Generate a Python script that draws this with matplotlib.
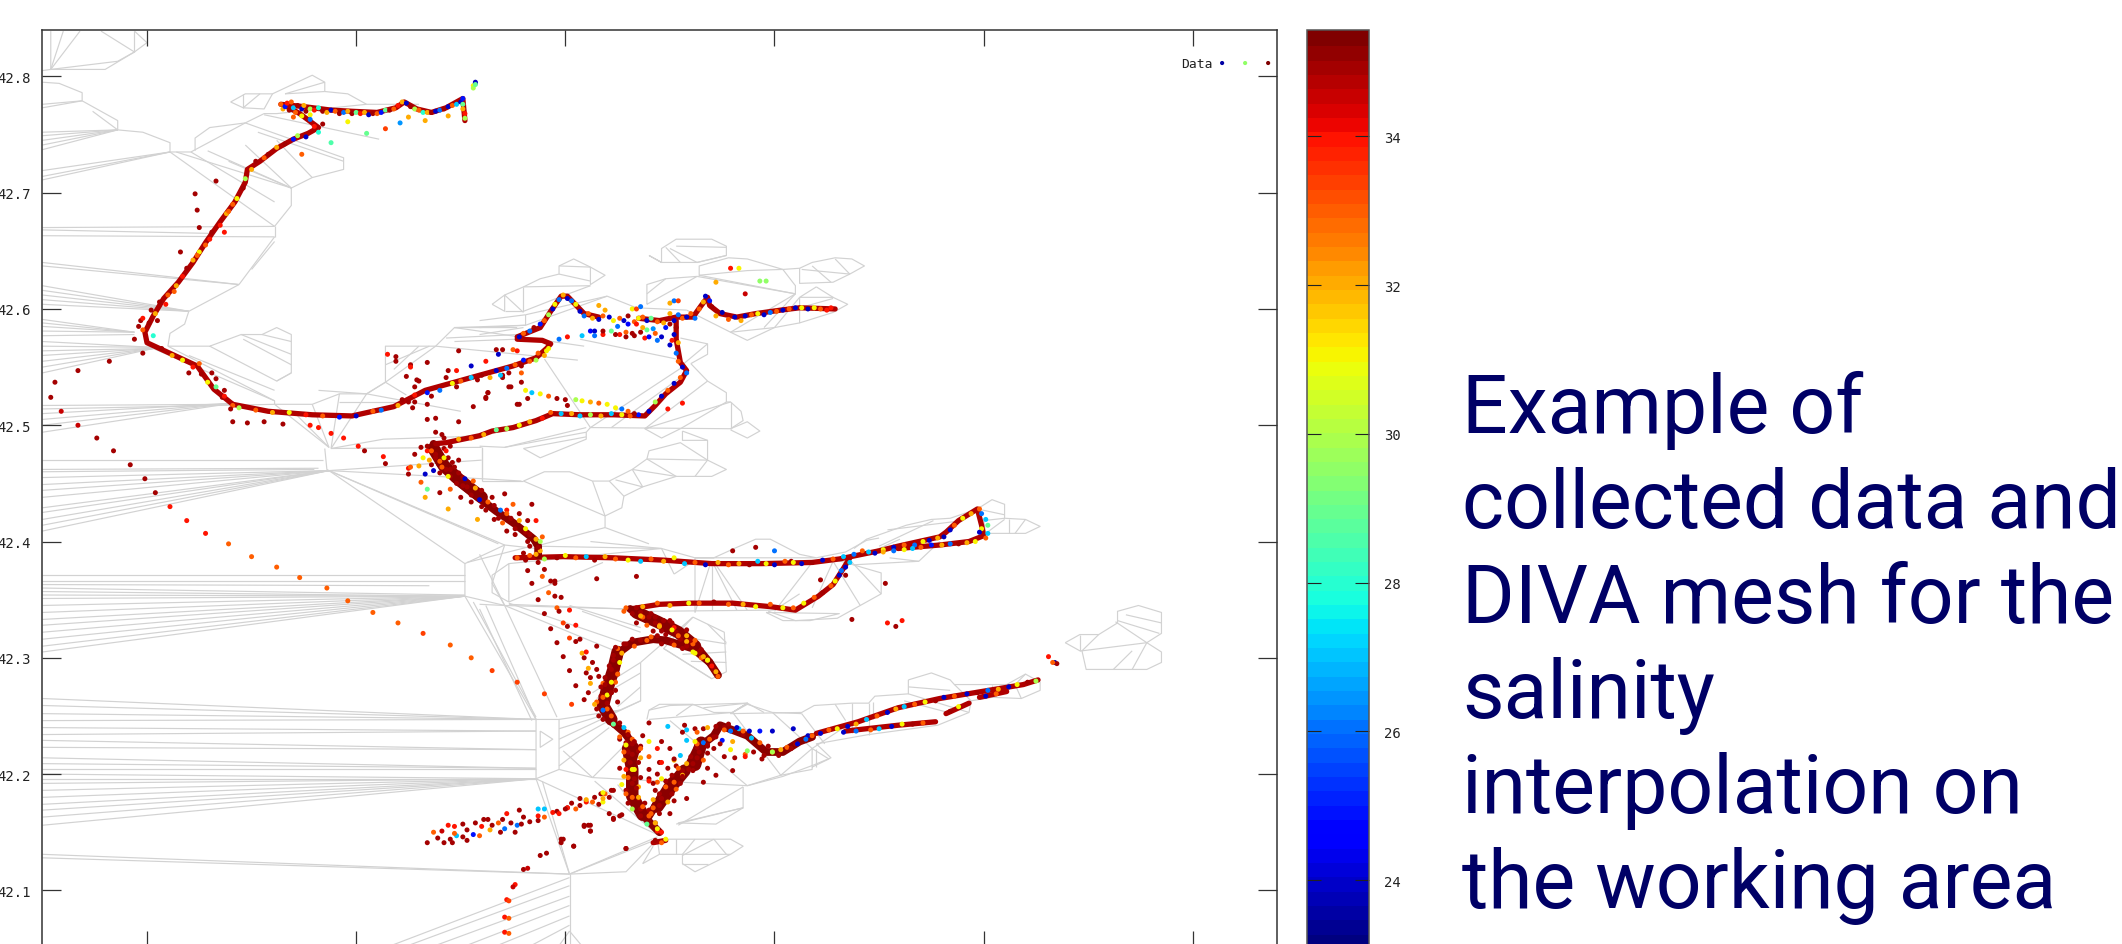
import numpy as np
import matplotlib
matplotlib.use("Agg")
import matplotlib.pyplot as plt
from matplotlib.collections import LineCollection
from matplotlib.colors import ListedColormap

# triangulation outline and inner edges, open sea side
mesh_west = [
    [(-46,839),(-46,806),(-20,806),(-6,821),(0,829),(-6,839)],
    [(-46,806),(-32,839)], [(-46,806),(-40,839)], [(-46,806),(-14,813),(-6,821),(-22,839)],
    [(-6,821),(-6,839)], [(-50,805),(-46,806)],
    [(-50,795),(-42,794),(-31,786),(-31,779),(-50,773)], [(-50,776),(-31,779)],
    [(-31,779),(-14,762),(-14,754),(-50,737)], [(-50,752),(-14,754)], [(-50,749),(-14,754)],
    [(-50,745),(-14,754)], [(-50,741),(-14,754)], [(-26,770),(-14,754)],
    [(-14,754),(-2,752),(11,743),(11,735),(-50,719)], [(-50,714),(11,735)], [(-50,711),(11,735)],
    [(11,735),(61,671)], [(11,735),(21,735),(47,760)], [(14,735),(69,704)],
    [(23,736),(23,747),(30,756),(47,760),(56,768),(62,768),(105,776)],
    [(21,735),(61,692)], [(29,736),(69,704)], [(39,727),(69,704)],
    [(40,778),(47,785),(60,785),(79,801),(85,795),(85,787),(96,785),(105,776),(130,776)],
    [(40,778),(46,773),(56,772),(60,785)], [(46,785),(46,773)], [(46,773),(54,785)],
    [(66,785),(85,795)], [(66,785),(85,787)],
    [(56,767),(111,746)], [(47,760),(94,730),(94,720),(79,713),(69,704),(69,689),(61,671)],
    [(53,752),(94,727)], [(62,745),(79,713)], [(47,741),(69,704)],
    [(-50,670),(61,671)], [(-50,668),(30,665)], [(-50,663),(61,662)], [(61,671),(61,662)],
    [(61,662),(44,621)], [(61,658),(50,634)], [(-50,640),(44,621)], [(-50,637),(44,621)],
    [(44,621),(20,598)], [(-50,620),(20,598)], [(-50,616),(20,598)], [(-50,612),(20,598)],
    [(-50,608),(20,598)], [(-50,604),(20,598)], [(20,598),(18,587),(11,579),(10,568)],
    [(-50,591),(-6,580)], [(-50,588),(-6,580)], [(-50,585),(-6,580)], [(-50,581),(-6,580)],
    [(-50,577),(-6,578)], [(-50,572),(3,567)], [(-50,568),(3,567)], [(-50,564),(3,566)],
    [(-50,560),(3,566)], [(-50,555),(3,566)], [(-50,550),(3,566)], [(-50,545),(3,566)],
    [(10,568),(30,568),(45,578),(55,578),(62,584),(69,578),(69,545),(62,538),(30,568)],
    [(45,578),(69,561)], [(55,578),(69,572)], [(46,574),(69,552)], [(62,538),(69,545)],
    [(10,568),(61,521)], [(3,566),(61,521),(61,518)], [(20,560),(61,530)],
    [(-50,517),(41,518)], [(-50,514),(61,518)], [(-50,510),(41,519)], [(-50,505),(41,519)],
    [(-50,500),(41,519)], [(-50,494),(41,519)],
    [(61,518),(79,518),(92,527),(105,527),(114,537),(114,568),(138,568),(147,584),(177,584)],
    [(61,518),(87,481),(79,518)], [(92,527),(88,480)], [(105,527),(88,480)], [(72,508),(87,481)],
    [(105,527),(114,537),(138,568)], [(114,552),(135,568)], [(118,548),(130,568)],
    [(82,530),(105,527)], [(124,526),(114,537)], [(138,568),(206,556)], [(147,584),(209,568)],
    [(143,575),(177,578)], [(147,572),(177,574)], [(105,527),(150,512)], [(92,520),(120,520)],
    [(88,480),(160,481)], [(85,480),(86,462),(87,461)], [(88,480),(113,488),(147,490)],
    [(87,461),(160,454),(179,452)], [(87,461),(160,470)], [(160,481),(160,454)],
    [(-50,470),(84,470)], [(-50,462),(82,463)], [(-50,460),(80,462)], [(-50,455),(87,461)],
    [(-50,449),(87,461)], [(-50,444),(87,461)], [(-50,438),(87,461)], [(-50,429),(87,461)],
    [(-50,425),(87,461)], [(-50,419),(87,461)], [(-50,414),(87,461)], [(-50,409),(87,461)],
    [(87,461),(152,381),(152,353)], [(87,461),(171,397)], [(87,461),(168,398)],
    [(152,381),(171,397),(186,394)], [(152,353),(171,345),(165,364),(171,397)],
    [(-50,371),(152,371)], [(-50,366),(152,366)], [(-50,363),(135,362)], [(-50,360),(152,354)],
    [(-50,357),(152,353)], [(-50,354),(152,353)], [(-50,351),(152,353)], [(-50,345),(152,353)],
    [(-50,339),(152,353)], [(-50,333),(152,353)], [(-50,328),(152,353)], [(-50,322),(152,353)],
    [(-50,316),(152,353)], [(-50,310),(152,353)], [(-50,305),(152,353)],
    [(152,353),(186,247)], [(156,348),(186,249)], [(171,345),(196,249)],
    [(-50,265),(186,247)], [(-50,259),(186,247)], [(-50,252),(186,247)], [(-50,246),(186,247)],
    [(-50,240),(186,237)], [(-50,234),(186,237)], [(-50,229),(186,221)], [(-50,223),(186,221)],
    [(-50,214),(186,205)], [(-50,209),(186,205)], [(-50,204),(186,204)], [(-50,200),(186,196)],
    [(-50,196),(186,196)], [(-50,192),(186,196)], [(-50,186),(186,196)], [(-50,180),(186,196)],
    [(-50,174),(186,196)], [(-50,169),(186,196)], [(-50,163),(186,196)], [(-50,156),(186,196)],
    [(-50,131),(202,114)], [(-50,128),(202,114)],
    [(186,196),(202,114)], [(189,194),(202,114)], [(186,196),(244,148)], [(214,194),(244,148)],
    [(225,191),(244,148)], [(202,114),(244,146)],
    [(202,114),(202,50)], [(202,111),(113,50)], [(202,104),(121,50)], [(202,95),(134,50)],
    [(202,87),(149,50)], [(202,78),(164,50)], [(202,70),(181,50)], [(202,65),(209,50)],
    [(202,65),(196,50)],
]

# triangulation round the inlets and the eastern spit
mesh_east = [
    [(165,604),(171,598),(171,612),(165,604)], [(171,612),(180,619),(188,626),(197,630),(197,637),(204,643),(212,636),(219,629),(212,621),(212,636)],
    [(171,598),(180,598),(180,619)], [(180,598),(197,610),(212,620)], [(180,597),(171,612)],
    [(180,619),(212,620)], [(197,630),(212,624)], [(197,637),(212,636)],
    [(181,595),(220,611),(234,601)], [(181,595),(181,586),(159,584)], [(220,611),(181,586)],
    [(159,578),(180,584)], [(147,584),(181,586)], [(159,590),(181,595)],
    [(239,604),(239,621),(248,626),(263,628),(239,604)], [(239,613),(248,626)], [(234,601),(258,599)],
    [(240,646),(246,640),(246,652),(253,660),(270,660),(277,654),(277,646),(263,640),(255,640),(246,640),(240,646)],
    [(248,653),(255,640)], [(250,652),(263,640)], [(253,654),(277,653)], [(263,640),(277,646)],
    [(264,628),(264,637),(278,644),(287,643),(304,634),(312,635),(318,640),(329,644),(337,643),(343,637),(336,630),(328,623),(312,622),(312,635)],
    [(313,634),(336,630)], [(329,643),(336,630)], [(318,637),(327,623)],
    [(264,629),(310,613),(310,620),(304,634)], [(263,628),(310,613)], [(264,629),(287,633),(304,634)],
    [(320,619),(312,610),(328,610),(335,604),(328,597),(312,588),(312,610)], [(320,619),(328,610)],
    [(312,601),(328,609)], [(312,588),(300,584),(287,573),(279,580),(258,599)],
    [(310,613),(295,584)], [(279,580),(300,584)], [(279,580),(310,613)], [(312,610),(300,584)],
    [(190,557),(212,498)], [(207,574),(253,557)], [(212,498),(256,550)], [(222,498),(258,545)],
    [(238,497),(279,520),(284,512),(285,504),(279,497),(212,498)], [(256,552),(268,570),(268,561),(260,553)],
    [(268,570),(255,575)], [(260,553),(268,538),(277,528),(277,520),(279,520)], [(268,538),(238,497)],
    [(277,520),(255,497)], [(279,520),(279,497)], [(279,497),(287,503),(293,495),(287,489),(279,496)],
    [(238,497),(246,489),(255,497)], [(256,495),(256,487),(268,487),(268,470),(277,462),(270,456),(253,456),(237,447),(228,439),(227,429),(219,422),(219,412)],
    [(256,495),(268,487)], [(239,471),(240,478),(255,485),(268,470)], [(239,471),(268,470)],
    [(262,456),(268,470)], [(239,471),(253,456)], [(232,462),(253,456)], [(232,462),(239,471)],
    [(221,452),(228,439)], [(221,452),(232,462)], [(224,453),(237,447)], [(232,462),(237,447)],
    [(180,452),(190,460),(202,460),(213,452),(221,452)], [(180,452),(219,422)], [(213,452),(219,422)],
    [(180,452),(160,452)], [(160,480),(160,452)], [(159,482),(171,481),(210,494),(212,498)],
    [(171,481),(210,498)], [(180,480),(188,472),(210,488),(210,494)], [(180,480),(210,490)],
    [(147,490),(159,491)], [(153,382),(186,397)], [(186,396),(246,394),(252,372)],
    [(219,412),(186,396)], [(212,400),(246,394)], [(219,412),(240,398)],
    [(159,389),(171,345)], [(173,348),(173,381),(165,371),(165,356),(173,348)],
    [(159,346),(171,345)], [(162,345),(186,247)], [(159,342),(184,246)],
    [(173,381),(246,394)], [(173,348),(218,382)], [(171,345),(229,342)], [(173,346),(229,342)],
    [(171,345),(225,305)], [(173,347),(228,313)],
    [(246,394),(262,386),(262,339)], [(252,372),(262,384)], [(262,386),(271,386),(282,395),(291,402),(298,402),(312,389),(320,386),(262,386)],
    [(269,379),(262,339)], [(270,379),(270,341)], [(272,380),(287,341)], [(271,380),(282,341)],
    [(240,340),(300,341)], [(296,339),(304,332),(317,332),(331,338),(296,339)], [(300,340),(318,382)],
    [(300,341),(312,355)], [(320,386),(334,391),(344,401),(350,403)],
    [(338,394),(344,402),(363,414),(375,419),(384,420),(397,428),(404,436),(410,432),(410,420),(420,419),(427,413),(420,407),(401,407),(400,418),(410,420)],
    [(410,419),(401,407)], [(412,419),(412,407)], [(415,407),(420,419)], [(397,428),(410,423)],
    [(328,385),(351,373),(351,355),(341,345),(330,334),(310,332),(297,340)], [(334,388),(351,355)],
    [(338,380),(369,383),(379,400)], [(355,386),(369,383)], [(341,345),(328,383)], [(318,343),(328,383)],
    [(354,410),(390,418)], [(345,390),(360,402)], [(350,396),(376,418)],
    [(439,313),(446,320),(455,320),(464,330),(464,340),(474,345),(485,339),(485,321),(478,313),(485,305),(485,296),(478,290),(449,290),(447,306),(478,313)],
    [(439,313),(446,306),(447,306)], [(446,320),(446,306)], [(455,320),(447,306)], [(463,331),(478,313)],
    [(468,337),(485,330)], [(464,332),(484,321)], [(462,290),(471,306)], [(471,290),(478,313)],
    [(364,281),(375,287),(384,281),(386,277),(415,277),(420,286),(427,279),(427,272),(418,265),(404,266),(394,263),(393,253),(378,242),(345,234),(320,226),(327,214),(319,208),(304,198),(287,190)],
    [(364,281),(364,269),(348,267),(345,261),(337,261),(319,259),(313,253),(279,252),(287,261),(279,252)],
    [(345,261),(345,234)], [(337,261),(337,235)], [(250,259),(240,255)], [(287,261),(250,259)],
    [(266,257),(287,261),(295,253)], [(364,269),(393,253)], [(364,275),(384,272)], [(362,263),(383,253)],
    [(415,277),(418,265)], [(404,277),(404,266)], [(386,277),(394,263)], [(420,286),(404,270)],
    [(285,189),(285,171),(253,157)], [(285,189),(254,156)], [(285,171),(254,158),(272,157),(285,171)],
    [(244,144),(279,144),(285,138),(279,131),(245,131),(244,144)], [(253,144),(253,131)], [(262,144),(256,131)],
    [(271,144),(256,130)], [(271,144),(277,131)], [(256,131),(256,123),(262,116),(279,131)], [(256,123),(268,123)],
    [(244,144),(202,114)], [(244,144),(229,116),(202,114)], [(237,123),(242,138)], [(245,131),(237,123)],
    [(186,247),(197,247),(197,204),(186,196),(186,247)], [(188,237),(194,230),(188,223),(188,237)],
    [(197,239),(226,255)], [(197,230),(236,263)], [(197,222),(220,245)], [(197,207),(221,240)],
    [(199,220),(213,197)], [(197,204),(213,197)], [(213,197),(228,224)], [(213,197),(287,190)],
    [(236,296),(236,263),(226,255),(197,247)], [(236,296),(213,270)], [(236,287),(215,265)], [(236,275),(225,258)],
    [(239,247),(240,255),(245,260),(261,260),(271,253),(280,253),(287,260),(299,253),(313,252)],
    [(240,247),(280,253)], [(253,250),(261,260)], [(287,190),(303,199),(318,204),(318,222),(326,213),(318,206)],
    [(303,199),(318,222)], [(320,222),(320,206)], [(318,222),(334,241)], [(280,253),(303,199)], [(250,246),(287,190)],
    [(299,253),(318,222)], [(313,252),(324,226)], [(329,260),(334,246)], [(347,262),(347,247)],
    [(261,335),(276,322),(277,288),(270,282),(247,308),(261,335)], [(247,308),(270,282)], [(256,318),(277,312)],
    [(256,303),(277,305)], [(260,297),(277,296)], [(268,329),(277,313)], [(236,296),(261,335)],
    [(202,345),(236,326)], [(208,340),(236,322)],
]

# where the survey tracks are so dense that the dots merge into a band
band_north = [(64,776),(75,774),(88,771),(98,770),(110,769),(119,773),(123,778),(129,772),(136,769),(143,773),(151,781),(152,762)]
band_cape = [(66,775),(73,768),(82,756),(77,751),(70,746),(62,738),(54,727),(48,720),(47,709),(42,692),(35,675),(28,657),(22,640),(15,623),(8,609),(3,594),(-1,580),(0,571),(12,561),(24,551),(32,531),(41,518)]
band_bay = [(41,518),(58,512),(79,509),(98,508),(118,516),(133,530),(159,543),(167,547),(175,551),(186,558),(191,566),(193,570),(189,573),(177,574)]
band_inner = [(177,576),(188,584),(193,598),(198,611),(201,611),(209,596),(216,593)]
band_fjord = [(235,592),(245,590),(253,593),(261,593),(265,603),(268,610),(269,603),(274,596),(282,593),(291,596),(303,599),(312,601),(329,600)]
band_stem = [(253,590),(253,574),(255,554),(258,547),(255,537),(248,527),(243,517),(238,508),(223,509),(207,509),(194,510),(186,504),(175,498),(165,495),(159,491),(143,485),(137,484)]
band_slope = [(137,484),(140,467),(147,454),(159,437),(167,426),(176,415),(185,402),(187,396),(187,388)]
band_middle = [(176,386),(199,387),(223,386),(247,384),(270,381),(294,381),(318,382),(331,385),(350,392),(359,396),(379,404),(382,408),(388,418),(397,428),(399,414),(400,405),(393,400),(379,397),(359,394)]
band_branch = [(336,386),(333,377),(328,363),(321,353),(310,341),(298,344),(280,347),(260,347),(245,346),(231,342)]
band_arc = [(273,285),(269,296),(261,308),(248,315),(242,316),(232,313),(226,305),(224,290),(220,273),(217,259),(221,247),(228,236),(234,222),(231,204),(232,181),(239,161),(245,150)]
band_fork = [(231,342),(239,333),(248,328),(256,319),(263,309),(269,296)]
band_east = [(320,235),(340,245),(359,257),(379,265),(399,271),(419,277),(426,281)]
band_east_low = [(334,237),(359,242),(377,245)]
band_east_bit = [(382,252),(393,261)]
band_east_tip = [(398,266),(411,271)]
band_central = [(239,161),(250,193),(258,204),(263,222),(271,233),(274,242),(287,233),(296,219),(304,219),(312,228),(318,232)]
band_tip = [(242,141),(248,143)]

# the widest stretches, where readings pile up across the track
pile_column = [(225,305),(223,290),(220,273),(218,259),(222,247)]
pile_lower = [(230,222),(232,204),(232,181),(237,165)]
pile_slope = [(137,480),(142,465),(150,452),(160,438)]
pile_fork = [(234,339),(244,331),(254,322),(262,310)]
pile_blob = [(262,208),(265,227)]
pile_blob2 = [(244,172),(251,190),(257,203)]

# single readings that can be told apart, lon, lat, salinity
dots_open_sea = [
    (-46,524,35),(-44,537,35),(-33,547,35),(-18,555,35),(-2,562,35),(-41,512,34.5),(-33,500,34.5),(-24,489,35),
    (-16,478,35),(-8,466,35),(-1,454,35),(4,442,35),(11,430,34),(19,418,34),(28,407,34),(39,398,33),(50,387,33),
    (62,378,33),(73,369,33),(86,360,33),(96,349,33),(108,339,33),(120,330,33),(132,321,33.5),(145,311,33),(155,300,33),
    (165,289,33.5),(177,279,33.5),(190,269,33.5),(203,260,33.5),
    (176,105,34),(175,103,34.5),(172,92,34),(173,91,33.5),(171,77,34),(173,76,33),(171,64,34),(173,63,33),
    (180,118,35),(182,119,34.5),(188,130,35),(191,132,35),(199,144,35),(198,141,35),(204,138,35),(229,136,35),
]
dots_scattered = [
    (33,710,35),(23,699,35),(24,685,35),(25,670,35),(16,649,35),(37,666,34),(74,733,33),(84,759,35),
    (96,761,31),(78,767,31),(105,751,29),(114,755,33.5),(121,760,26.5),(125,765,32),(133,762,32),(144,766,32),(88,743,28.5),
    (279,635,34),(283,635,31),(272,623,32),(293,624,29.5),(296,624,29.5),(286,613,34.5),(250,605,32),(252,607,26),(254,607,33.5),
    (249,514,34),(256,519,34),(216,603,32),(219,599,32),(232,600,31),(234,600,33.5),(236,602,26),
    (115,561,34),(119,559,35),(119,555,35),(126,552,35),(126,550,34),(124,542,35),(134,554,35),(129,539,35),(130,538,35),(128,533,35),
    (149,564,35),(144,547,35),(148,547,34),(167,565,35),(170,565,35),(168,561,24),(175,565,33),(177,564,34),(155,551,24),
    (162,523,35),(163,528,35),(173,533,35),(170,543,35),(177,518,35),(156,516,35),(149,503,35),(138,506,35),(134,505,35),(134,518,35),(127,515,35),(125,520,35),
    (41,503,35),(48,502,35),(56,503,35),(65,501,35),(78,500,34),(82,498,34),(88,493,34),(94,489,34),(101,482,34),(104,478,35),(113,473,34),(114,467,35),(125,463,34),
    (138,494,35),(141,492,35),(142,489,35),(162,555,34),(170,541,35),(174,533,35),(163,528,35),(162,524,35),(178,518,35),(182,523,35),(201,517,35),
    (182,375,35),(187,382,35),(190,376,35),(184,364,35),(189,370,33),(193,366,35),(195,366,35),(195,364,35),(192,356,33),(195,353,35),(198,352,35),(187,350,35),
    (215,368,35),(234,370,35),(196,343,33),(197,340,35),(202,341,34),(190,338,35),(199,330,33.5),(205,328,34),(201,327,35),(193,325,35),(202,317,33.5),(207,316,35),(205,314,35),(196,313,35),
    (215,310,35),(199,301,35),(208,304,32),(210,305,34),(209,300,35),(213,296,35),(211,291,32),(202,289,35),(210,287,35),(215,290,35),(212,278,32),(205,276,35),(211,270,35),(209,264,35),(212,283,35),(216,284,35),(218,278,33),
    (224,272,35),(225,262,35),(220,268,31),(215,262,33),
    (334,371,35),(353,364,35),(308,383,35),(322,367,35),(354,330,34),(358,327,35),(361,332,34),(337,333,35),(345,391,27),(357,395,35),(300,392,26),(291,395,35),(280,392,35),
    (431,301,34),(434,296,23.7),(435,295,35),(433,296,33),
]
dots_southwest = [
    (134,141,35),(141,151,34.5),(142,141,35),(144,156,34),(147,155,34),(145,144,35),(148,147,27),(151,157,35),(153,143,35),(156,148,25),(157,158,35),(159,147,33),
    (161,161,35),(163,161,35),(164,152,32),(169,150,35),(170,161,35),(171,153,26),(174,158,35),(177,156,26),(180,163,35),(179,157,35),(187,164,34),(187,160,35),
    (190,170,27),(194,167,34),(196,168,35),(201,171,35),(205,170,33),(207,173,35),(209,156,35),(212,151,35),(212,156,35),(216,174,35),(219,183,33),(223,186,35),
    (218,176,31),(223,161,35),(226,164,35),(221,180,35),(217,183,35),(214,180,35),(207,179,35),(201,171,34),(218,179,32),(221,166,35),(223,162,35),(227,165,35),
    (209,155,35),(211,156,35),(212,151,35),(198,144,35),(204,138,35),(229,136,35),(178,169,35),(172,166,34),(165,156,35),(160,155,34),(153,152,35),(147,149,33),
    (183,159,35),(190,163,33),(197,166,34),(203,175,35),(210,176,34),(151,146,35),(139,145,35),(146,141,35),(137,150,33),(176,150,35),(168,158,33),(187,170,27),
]
dots_central = [
    (229,227,35),(232,230,33),(235,220,35),(230,219,35),(236,214,32),(231,210,35),(233,204,31),(229,204,34),(236,197,35),(230,197,33),(232,192,35),(235,189,32),
    (229,186,35),(232,180,33),(235,179,35),(236,170,35),(240,164,33),(243,158,35),(244,151,34),(240,169,35),(242,171,33),(245,166,35),(238,175,35),(228,219,33),
    (245,210,35),(240,204,35),(248,194,35),(252,193,33),(256,203,35),(259,204,35),(253,187,33),(251,183,35),(246,179,35),(249,176,32),(252,177,35),(245,173,35),
    (240,196,35),(240,194,34),(244,193,33),(244,200,35),(253,207,35),(256,199,32),(261,203,35),(266,193,35),(258,179,35),(250,166,35),(280,203,35),
    (264,219,35),(263,214,35),(266,212,33),(263,223,35),(268,224,35),(269,230,33),(266,227,26),(272,232,35),(276,240,35),(279,237,26),(285,234,35),(281,214,35),
    (286,217,33),(290,219,35),(295,216,35),(299,219,32),(302,216,35),(306,223,33),(310,226,35),(316,233,24),(309,239,24),(299,237,24),(293,237,25),(288,237,24),
    (283,239,27),(275,229,25),(258,229,27),(258,238,27),(249,241,27),(240,228,31),(246,228,35),(237,233,35),(240,244,35),(257,242,35),(262,239,35),(255,216,27),
    (252,212,32),(279,221,31),(287,220,29.5),(268,218,35),(271,222,35),(274,226,35),(261,209,35),(268,205,35),(272,199,35),(255,192,35),(249,205,35),(243,186,35),
]
dots_wide_slope = [
    (131,481,35),(134,478,34),(138,484,35),(132,472,31),(138,475,35),(142,480,35),(145,482,35),(140,469,33),(144,472,35),(147,464,35),(143,462,35),(130,465,32),
    (126,464,33),(133,458,24),(140,459,35),(145,456,35),(151,455,35),(125,458,35),(131,451,33),(134,445,29),(140,442,35),(145,445,33),(150,438,35),(133,438,32),
    (144,428,32),(158,419,32),(155,434,35),(166,419,35),(172,427,34),(171,441,35),(175,432,33),(184,432,35),(182,418,35),(186,418,34),(181,408,35),(172,409,35),
    (149,470,35),(136,466,35),(151,448,35),(156,452,33),(160,430,35),(165,438,35),(170,416,33),(176,406,35),(178,424,35),(183,396,35),(189,404,33),(128,475,35),
]
dots_wide_arc = [
    (223,302,35),(225,308,33),(222,290,35),(225,286,35),(219,277,35),(224,279,33),(217,267,35),(222,270,35),(215,256,35),(220,256,33),(218,247,35),(223,242,35),
    (226,230,35),(230,236,33),(232,226,35),(236,224,35),(234,343,35),(237,335,33),(240,335,35),(236,339,35),(247,332,35),(245,328,33),(251,330,35),(253,322,35),
    (258,319,32),(246,323,35),(255,316,35),(261,312,33),(264,305,35),(268,298,32),(271,290,35),(228,312,35),(232,316,35),(239,315,33),(244,319,35),(251,313,35),
    (256,308,35),(261,305,31),(241,338,35),(228,340,33),(243,330,35),(252,326,34),(260,315,35),(265,300,33),
]

# band speckle, the coloured readings lying on the tracks
speckle_north = [
    (64,776,33),(65,772,32),(66,774,25),(67,777,34),(68,771,35),(69,778,33),(70,773,27),(71,769,33),(72,775,35),(74,772,24),(75,775,32),(76,770,35),
    (78,772,30),(80,771,34),(82,773,28),(84,770,35),(86,769,32),(88,771,24),(90,770,33),(92,768,35),(94,769,26),(96,770,32),(98,768,35),(100,769,29),
    (102,768,34),(104,769,32),(106,767,24),(108,768,35),(110,768,33),(112,769,25),(114,771,29),(116,771,35),(118,772,33),(120,775,34),(122,778,32),(124,777,24),
    (126,774,35),(128,772,30),(130,771,33),(132,769,28),(134,769,32),(136,769,35),(138,770,24),(140,771,26),(142,772,35),(144,774,24),(146,775,33),(148,776,27),
    (150,778,24),(151,781,25),(151,776,29),(151,772,32),(152,768,34),(152,764,30),(157,795,23.8),(156,792,31),(157,794,24),(156,790,30),(157,793,29),
]
speckle_cape = [
    (70,765,33),(74,766,31),(78,763,26),(80,757,34),(82,752,28),(76,748,24),(72,749,30),(70,746,25),(66,742,35),(62,739,32),(58,733,35),(56,730,33),
    (52,727,35),(50,720,32),(47,712,30),(46,704,35),(43,695,31),(41,690,33),(38,682,32),(35,672,34),(31,666,35),(28,655,33),(25,649,31),(22,642,32),
    (19,635,35),(17,628,34),(14,620,32),(10,612,33),(6,606,35),(4,596,32),(1,588,35),(-2,582,33),(3,577,28),(7,566,35),(12,560,32),(17,556,31),
    (22,550,34),(26,544,35),(29,537,31),(33,533,29),(36,524,35),(41,517,33),(44,515,30),(33,540,35),(37,530,35),(25,553,33),(20,545,35),(31,545,35),(37,525,34),(40,514,35),
    (9,604,34),(13,615,33),(24,646,33),(30,660,34),(39,684,33),(5,590,35),(-4,585,35),(-6,574,35),(-3,590,35),(2,599,35),(-2,592,34),
]
speckle_bay = [
    (52,513,33),(60,511,32),(68,511,31),(76,509,34),(84,508,33),(92,507,25),(100,508,24),(108,512,33),(112,513,26),(120,517,32),(128,526,34),(134,528,25),
    (136,525,35),(140,530,26),(146,536,31),(150,538,33),(155,541,27),(160,543,35),(167,547,24),(172,549,26),(176,552,33),(180,556,25),(186,556,30),(191,564,31),
    (164,541,32),(169,543,27),(183,555,33),(187,562,33),(190,560,32),(192,566,31),(179,551,35),(173,545,35),(158,539,35),(148,533,35),(143,541,35),(128,520,35),(122,522,35),
]
speckle_loop = [
    (178,576,24),(180,579,33),(183,581,26),(185,584,35),(188,587,25),(190,590,33),(192,595,30),(194,600,24),(195,604,31),(197,608,26),(199,612,32),(201,609,24),(203,607,26),
    (205,604,31),(207,598,24),(209,594,26),(211,596,33),(213,592,32),(216,591,24),(218,594,33),(221,593,24),(223,590,31),(226,592,33),(228,590,24),(230,594,35),(233,589,33),
    (235,592,31),(237,593,33),(239,590,24),(241,592,29),(244,589,33),(247,588,32),(250,587,35),(252,590,24),(250,596,32),(254,595,26),(256,592,33),(258,593,24),(260,596,33),(262,592,26),
    (264,600,33),(266,606,32),(267,611,24),(269,607,25),(270,602,35),(272,594,32),(275,597,23.8),(278,591,33),(281,593,24),(284,590,32),(286,594,24),(289,595,33),(292,596,31),
    (295,595,24),(298,597,26),(301,598,33),(304,599,24),(307,600,33),(310,601,24),(313,601,31),(316,600,23.8),(319,601,31),(322,600,33),(325,599,34),(327,601,34),
    (197,574,26),(201,576,34),(208,577,27),(212,581,24.5),(214,581,24),(214,577,26),(218,578,34),(222,581,29),(225,585,26),(226,578,34),(229,580,33),(230,587,24.5),(234,587,34),
    (238,575,34),(233,577,35),(240,576,24.5),(244,573,26),(246,576,24),(248,584,25),(242,583,26.5),(239,582,29),(237,584,32),(251,573,34),(250,569,24),(218,581,35),(224,578,35),(229,576,35),(232,579,35),(236,580,35),(243,579,33),
    (253,584,35),(252,578,24),(254,571,32),(253,562,26),(254,555,33),(256,550,24),(258,545,26),(255,541,33),(252,536,24),(249,530,33),(246,525,24),(243,520,30),(240,512,24),
    (235,509,25),(231,508,33),(227,509,31),(222,510,27),(217,508,32),(212,509,30),(207,508,27),(203,510,32),(198,510,27),(193,511,33),(189,506,34),(183,503,32),(178,500,31),(172,497,30),(167,496,29),(161,492,32),(155,489,33),(149,488,32),
    (179,545,33),(179,537,35),(181,530,31),(184,528,27),(188,527,31),(192,525,33),(196,523,35),(200,522,35),(205,522,30),(208,521,31),(212,520,32),(216,519,33),(220,518,31),(224,515,31),(227,514,26),(230,512,33),(233,510,35),
]
speckle_slope = [
    (134,482,35),(136,478,33),(139,484,35),(143,478,34),(138,472,35),(135,470,32),(142,472,31),(146,468,35),(141,464,33),(137,461,24),(145,462,35),(149,459,35),(144,456,31),(148,450,35),(152,454,24),
    (153,447,35),(157,446,32),(160,444,35),(155,440,35),(159,436,24),(163,434,33),(166,431,35),(162,427,35),(169,427,26),(172,424,33),(168,420,35),(174,420,35),(178,418,32),(176,411,35),(181,411,31),
    (183,406,35),(186,402,32),(182,400,35),(188,400,30),(188,392,32),(187,395,35),(180,390,35),(183,388,33),
]
speckle_middle = [
    (177,386,33),(181,384,35),(186,389,32),(190,385,30),(196,386,35),(200,388,31),(205,386,33),(210,387,27),(214,384,35),(219,387,32),(224,385,33),(230,384,31),(236,383,27),(241,385,33),(247,383,32),
    (252,386,31),(257,381,27),(262,382,33),(267,380,24),(273,382,32),(278,380,33),(283,381,32),(288,380,35),(292,383,27),(296,381,31),(300,380,24),(305,383,33),(309,382,31),(313,381,24),(318,382,35),(323,384,24),
    (328,385,33),(333,387,27),(338,389,26),(342,392,33),(348,390,24),(352,393,31),(357,395,24),(362,397,33),(367,397,26),(371,400,31),(374,401,24),(378,403,32),(381,404,23.8),(384,410,24),(386,414,33),(390,420,31),(394,424,32),
    (398,428,33),(399,424,26),(401,419,27),(402,414,29),(399,411,31),(398,408,24),(402,407,27),(401,403,33),(396,400,31),(392,399,32),(388,398,35),(384,398,26),(380,397,32),(375,397,25),(370,395,33),(366,394,27),(362,393,31),(357,392,26),(352,391,32),
    (336,382,27),(334,378,24),(332,375,26),(331,371,24),(329,366,31),(327,362,33),(323,356,35),(319,352,33),(314,347,31),(309,343,33),(304,343,31),(298,346,33),(291,344,31),(285,346,32),(278,346,33),(271,348,35),(264,347,33),(259,347,31),(250,345,32),(244,347,33),(237,344,32),
]
speckle_south = [
    (229,343,33),(232,338,35),(236,336,32),(234,330,35),(239,328,33),(243,335,35),(245,327,32),(242,323,35),(250,332,35),(251,324,31),(248,320,35),(254,319,33),(258,324,35),(258,314,32),(262,315,33),
    (262,304,31),(265,307,35),(266,301,32),(268,298,31),(270,293,34),(272,288,32),(273,284,33),(258,310,35),(252,311,33),(246,312,35),(241,318,33),(236,315,35),(233,310,33),
    (229,312,35),(227,304,32),(224,309,35),(223,298,35),(226,296,31),(221,293,35),(225,286,33),(219,283,35),(222,279,31),(217,275,35),(222,270,35),(218,266,33),(214,260,32),(218,255,26),(220,261,35),(216,250,35),
    (222,250,33),(223,243,29),(226,244,35),(228,240,27),(230,234,35),(226,232,33),(233,228,35),(229,225,31),(236,222,33),(232,217,35),(235,210,35),(228,212,32),(226,205,35),(232,204,31),(228,198,32),(233,196,35),
    (227,191,31),(234,188,35),(229,183,33),(235,180,32),(230,175,35),(232,170,30),(237,172,33),(236,164,35),(241,166,33),(239,157,29),(243,158,32),(244,153,31),(246,150,34),(243,143,35),(246,141,33),(248,144,31),
    (242,178,32),(245,183,35),(248,189,33),(242,192,35),(246,196,31),(251,199,35),(254,205,33),(256,198,35),(258,209,32),(252,213,35),(246,210,34),(240,215,33),(250,222,35),(244,222,34),(260,215,35),(263,226,33),
    (256,236,35),(263,236,33),(266,239,35),(262,228,31),(268,225,35),(268,240,32),(272,241,35),(276,238,33),(271,232,35),(278,243,35),(282,240,24),(285,237,33),(289,231,27),(293,227,33),(297,224,35),(276,215,35),(280,228,32),(286,215,34),(294,213,35),
    (299,219,30),(303,221,32),(308,222,35),(311,226,24),(315,230,26),(318,233,33),(322,235,24),(326,238,33),(330,239,31),(335,241,24),(339,243,32),(344,247,27),(349,250,33),(354,253,24),(358,256,32),(362,258,27),(367,260,33),(372,262,31),(377,263,35),(381,266,24),(386,267,33),(392,269,24),(397,270,35),(402,272,26),(407,273,32),(412,275,24),(416,277,31),(421,279,35),(425,280,30),
    (333,236,24),(339,237,26),(346,238,33),(350,239,27),(356,241,24),(361,243,31),(366,243,35),(371,244,33),(384,254,35),(388,258,31),(401,267,24),(406,269,33),(210,178,32),(200,170,35),(218,184,31),(213,176,33),(222,186,35),
]

salinity_ticks = [24, 26, 28, 30, 32, 34]
lat_ticks = [42.1, 42.2, 42.3, 42.4, 42.5, 42.6, 42.7, 42.8]
lon_ticks = [18.0, 18.1, 18.2, 18.3, 18.4, 18.5]
legend_lon = [514, 525, 536]
legend_lat = [811.5, 811.5, 811.5]
legend_sal = [23.6, 29.5, 35.3]
caption = ["Example of", "collected data and", "DIVA mesh for the", "salinity", "interpolation on", "the working area"]

LON0 = 18.0
LAT0 = 42.0
W, H = 2122, 945


def lonlat(points):
    arr = np.array(points, dtype=float)
    return np.column_stack([LON0 + arr[:, 0] / 1000, LAT0 + arr[:, 1] / 1000])


fig = plt.figure(figsize=(W / 100, H / 100), dpi=100, facecolor="white")
ax = fig.add_axes([42.4 / W, 1 - 948 / H, (1276.5 - 42.4) / W, (948 - 31) / H])
ax.set_xlim(17.95, 18.54)
ax.set_ylim(42.0513, 42.8399)

cmap = ListedColormap(plt.get_cmap("jet")(np.linspace(0, 1, 64)))
VMIN, VMAX = 23.1, 35.43

segments = [lonlat(line) for line in mesh_west + mesh_east]
ax.add_collection(LineCollection(segments, colors="#d2d2d2", linewidths=0.85, zorder=1))

thin_bands = [band_north, band_cape, band_bay, band_inner, band_fjord, band_stem, band_middle,
              band_branch, band_east, band_east_low, band_east_bit, band_east_tip, band_tip]
thick_bands = [band_slope, band_arc, band_central, band_fork]
piles = [pile_column, pile_lower, pile_slope, pile_fork, pile_blob, pile_blob2]
for band in thin_bands:
    xy = lonlat(band)
    ax.plot(xy[:, 0], xy[:, 1], color="#b00000", lw=3.8, solid_capstyle="round", solid_joinstyle="round", zorder=2)
for band in thick_bands:
    xy = lonlat(band)
    ax.plot(xy[:, 0], xy[:, 1], color="#8b0000", lw=5.6, solid_capstyle="round", solid_joinstyle="round", zorder=2)
for band in piles:
    xy = lonlat(band)
    ax.plot(xy[:, 0], xy[:, 1], color="#8b0000", lw=9, solid_capstyle="round", solid_joinstyle="round", zorder=2)

all_dots = dots_open_sea + dots_scattered + dots_southwest + dots_central + dots_wide_slope + dots_wide_arc \
    + speckle_north + speckle_cape + speckle_bay + speckle_loop + speckle_slope + speckle_middle + speckle_south
xy = lonlat([d[:2] for d in all_dots])
sal = np.array([d[2] for d in all_dots])
pts = ax.scatter(xy[:, 0], xy[:, 1], c=sal, s=13, cmap=cmap, vmin=VMIN, vmax=VMAX, linewidths=0, zorder=3)

ax.set_xticks(lon_ticks)
ax.set_yticks(lat_ticks)
ax.set_xticklabels([])
ax.set_yticklabels(["%.1f" % v for v in lat_ticks], family="DejaVu Sans Mono", fontsize=10, color="#222222")
ax.tick_params(axis="y", direction="in", length=13.5, width=0.9, left=True, right=True, pad=8, color="#333333")
ax.tick_params(axis="x", direction="in", length=11.8, width=0.9, top=True, bottom=True, color="#333333")
for spine in ax.spines.values():
    spine.set_linewidth(1.1)
    spine.set_color("#333333")

ax.text(LON0 + 509.6 / 1000, LAT0 + 811.5 / 1000, "Data", ha="right", va="center",
        family="DejaVu Sans Mono", fontsize=9.4, color="#222222", zorder=4)
ax.scatter(LON0 + np.array(legend_lon) / 1000, LAT0 + np.array(legend_lat) / 1000, c=legend_sal, s=9,
           cmap=cmap, vmin=VMIN, vmax=VMAX, linewidths=0, zorder=4)

cax = fig.add_axes([1306.7 / W, 1 - 948 / H, (1369 - 1306.7) / W, (948 - 31) / H])
cbar = fig.colorbar(pts, cax=cax, ticks=salinity_ticks)
cbar.solids.set_edgecolor("face")
cax.set_ylim(VMIN, VMAX)
cax.yaxis.set_ticks_position("both")
cax.tick_params(axis="y", direction="in", length=10, width=0.8, pad=10.5, color="#222222",
                labelright=True, labelleft=False, left=True, right=True)
for label in cax.get_yticklabels():
    label.set_family("DejaVu Sans Mono")
    label.set_fontsize(10)
    label.set_color("#222222")
for spine in cax.spines.values():
    spine.set_linewidth(1.1)
    spine.set_color("#555555")

for i, line in enumerate(caption):
    fig.text(1462 / W, 1 - (433 + 95 * i) / H, line, family="Roboto", fontsize=58,
             color="#000066", ha="left", va="baseline")

fig.savefig("out.png", dpi=100)
